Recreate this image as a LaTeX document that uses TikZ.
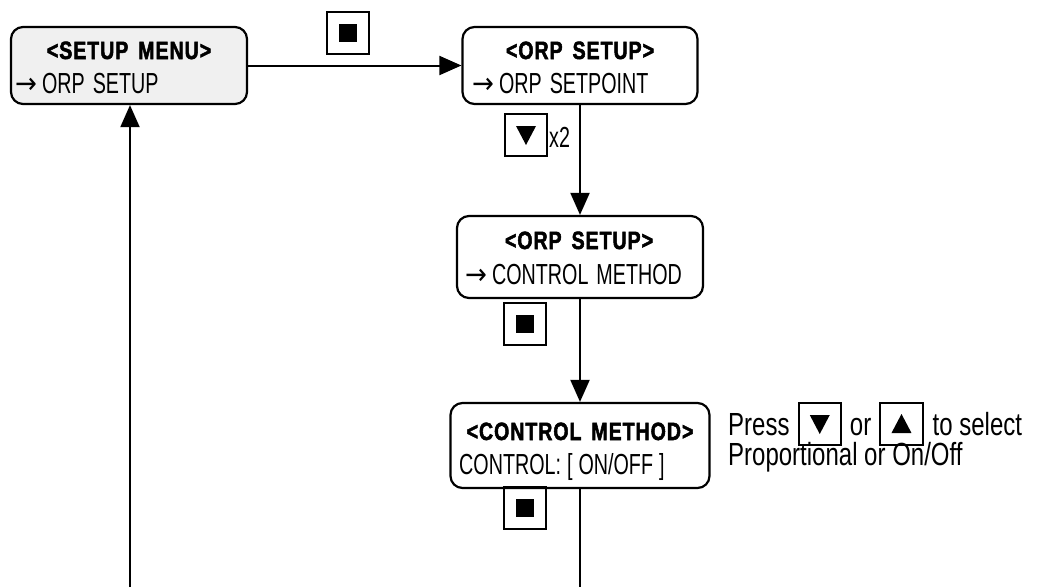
\documentclass[tikz,border=0pt]{standalone}
\usepackage{fontspec}
\usetikzlibrary{arrows.meta}
\setmainfont{Liberation Sans}
\newfontfamily\bodyf{Liberation Sans}[FakeStretch=0.68]
\newfontfamily\arrf{DejaVu Sans}[FakeStretch=0.9]
\newfontfamily\titlef{Liberation Sans Bold}[FakeStretch=0.78,FakeBold=2,LetterSpace=4]
\newfontfamily\notef{Liberation Sans}[FakeStretch=0.75]
\newcommand{\arr}{{\arrf →}\hspace{5pt}}
\tikzset{
  menubox/.style={draw, line width=2.2pt, rounded corners=12pt, inner sep=0pt},
  ttl/.style={anchor=base, inner sep=0pt, font=\titlef\fontsize{25}{28}\selectfont},
  bdy/.style={anchor=base west, inner sep=0pt, font=\bodyf\fontsize{29}{32}\selectfont},
  note/.style={anchor=base west, inner sep=0pt, font=\notef\fontsize{32}{34}\selectfont},
  conn/.style={line width=2pt, -{Triangle[length=22pt,width=19pt]}},
  plain/.style={line width=2pt},
  keybase/.style={draw, line width=2pt, inner sep=0pt, minimum width=42pt, minimum height=42pt},
  keysq/.style={keybase, path picture={\fill (path picture bounding box.center) ++(-9,-9) rectangle ++(18,18);}},
  keydn/.style={keybase, path picture={\fill (path picture bounding box.center) ++(-10,-9) -- ++(20,0) -- ++(-10,19) -- cycle;}},
  keysmdn/.style={draw, line width=2pt, inner sep=0pt, minimum width=42pt, minimum height=42pt, path picture={\fill (path picture bounding box.center) ++(-10,-9) -- ++(20,0) -- ++(-10,19) -- cycle;}},
  keysmup/.style={draw, line width=2pt, inner sep=0pt, minimum width=42pt, minimum height=42pt, path picture={\fill (path picture bounding box.center) ++(-10,9) -- ++(20,0) -- ++(-10,-19) -- cycle;}},
}
\begin{document}
\begin{tikzpicture}[x=1pt,y=-1pt]
\useasboundingbox (0,0) rectangle (1041,587);
% boxes
\node[menubox, fill=black!6, minimum width=236pt, minimum height=77pt] (b1) at (129,65.5) {};
\node[menubox, minimum width=235pt, minimum height=77pt] (b2) at (580,65.5) {};
\node[menubox, minimum width=246pt, minimum height=82pt] (b3) at (580,257) {};
\node[menubox, minimum width=259pt, minimum height=85pt] (b4) at (580,445.5) {};
% texts
\node[ttl] (t1) at (129,59) {<SETUP\hspace{10pt}MENU>};
\node[bdy] (l1) at (15,93) {\arr ORP\hspace{8pt}SETUP};
\node[ttl] (t2) at (580,59) {<ORP\hspace{10pt}SETUP>};
\node[bdy] (l2) at (472,93) {\arr ORP\hspace{8pt}SETPOINT};
\node[ttl] (t3) at (579,249) {<ORP\hspace{10pt}SETUP>};
\node[bdy] (l3) at (465,284) {\arr CONTROL\hspace{8pt}METHOD};
\node[ttl] (t4) at (580,440) {<CONTROL\hspace{10pt}METHOD>};
\node[bdy] (l4) at (459,474) {CONTROL:\hspace{6pt}[\hspace{6pt}ON/OFF\hspace{6pt}]};
% keys
\node[keysq] (k1) at (348,33) {};
\node[keydn] (k2) at (526,135) {};
\node[bdy, anchor=base west] (x2) at (549,147) {x2};
\node[keysq] (k3) at (525,324) {};
\node[keysq] (k4) at (525,508) {};
% note
\node[note] (n1) at (728,435) {Press};
\node[keysmdn, anchor=west] (nk1) at ([xshift=8pt]n1.east |- 0,424) {};
\node[note] (n2) at ([xshift=8pt]nk1.east |- n1.base) {or};
\node[keysmup, anchor=west] (nk2) at ([xshift=8pt]n2.east |- 0,424) {};
\node[note] (n3) at ([xshift=9pt]nk2.east |- n1.base) {to select};
\node[note] (n4) at (728,465) {Proportional or On/Off};
% connectors
\coordinate (bl) at (130,587);
\coordinate (br) at (580,587);
\draw[conn] (b1.east) -- (b2.west);
\draw[conn] (b2.south) -- (b3.north);
\draw[conn] (b3.south) -- (b4.north);
\draw[plain] (b4.south) -- (br);
\draw[conn] (bl) -- (bl |- b1.south);
\end{tikzpicture}
\end{document}
